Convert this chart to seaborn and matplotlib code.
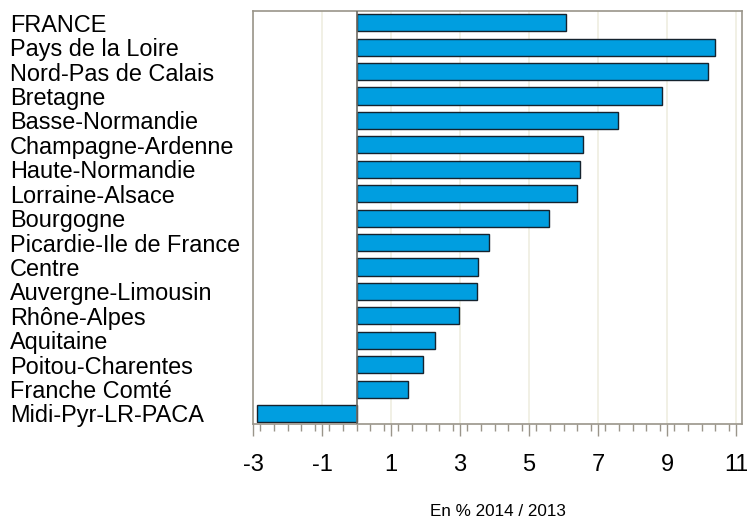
import pandas as pd
import matplotlib.pyplot as plt
import seaborn as sns
from matplotlib.ticker import MultipleLocator

# Data
regions = [
    "FRANCE", "Pays de la Loire", "Nord-Pas de Calais", "Bretagne",
    "Basse-Normandie", "Champagne-Ardenne", "Haute-Normandie",
    "Lorraine-Alsace", "Bourgogne", "Picardie-Ile de France", "Centre",
    "Auvergne-Limousin", "Rhône-Alpes", "Aquitaine", "Poitou-Charentes",
    "Franche Comté", "Midi-Pyr-LR-PACA",
]
evolution = [
    6.08, 10.40, 10.18, 8.85, 7.58, 6.57, 6.48, 6.39, 5.58, 3.84,
    3.52, 3.49, 2.97, 2.28, 1.93, 1.50, -2.88,
]
xticks = [-3, -1, 1, 3, 5, 7, 9, 11]

df = pd.DataFrame({"region": regions, "evolution": evolution})

# Style
sns.set_theme(style="white")
plt.rcParams['font.family'] = ['Liberation Sans', 'DejaVu Sans']
plt.rcParams['axes.unicode_minus'] = False
plt.rcParams['text.color'] = 'black'
plt.rcParams['axes.labelcolor'] = 'black'
plt.rcParams['xtick.labelcolor'] = 'black'
plt.rcParams['ytick.labelcolor'] = 'black'

frame_color = "#9a958a"

fig = plt.figure(figsize=(7.47, 5.19), dpi=100)
ax = fig.add_axes([253 / 747, 1 - 424 / 519, (742 - 253) / 747, (424 - 11) / 519])

# Grid lines at odd values
for v in xticks:
    ax.axvline(v, color="#efeee0", lw=1.2, zorder=0)

sns.barplot(data=df, x="evolution", y="region", orient="h", color="#009ee0",
            saturation=1, edgecolor="#15232e", linewidth=1, width=0.7, ax=ax,
            zorder=2)

ax.axvline(0, color="#6e6a62", lw=1.2, zorder=3)

ax.set_xlim(-3, 11.17)
ax.set_ylim(16.43, -0.48)

ax.set_xticks(xticks)
ax.xaxis.set_minor_locator(MultipleLocator(0.4))
ax.tick_params(axis="x", which="major", direction="out", length=8.5, width=1,
               color=frame_color, labelsize=17, pad=13, bottom=True,
               labelcolor="black")
ax.tick_params(axis="x", which="minor", direction="out", length=5, width=1,
               color=frame_color, bottom=True)

ax.tick_params(axis="y", length=0, pad=175, labelsize=16.9, labelcolor="black")
for lab in ax.get_yticklabels():
    lab.set_horizontalalignment("left")

ax.set_ylabel("")
ax.set_xlabel("En % 2014 / 2013", fontsize=12.3, labelpad=20, color="black")

for side in ["left", "right", "top", "bottom"]:
    ax.spines[side].set_visible(True)
    ax.spines[side].set_color(frame_color)
    ax.spines[side].set_linewidth(1.2)

plt.savefig("out.png", dpi=100)
plt.close()
